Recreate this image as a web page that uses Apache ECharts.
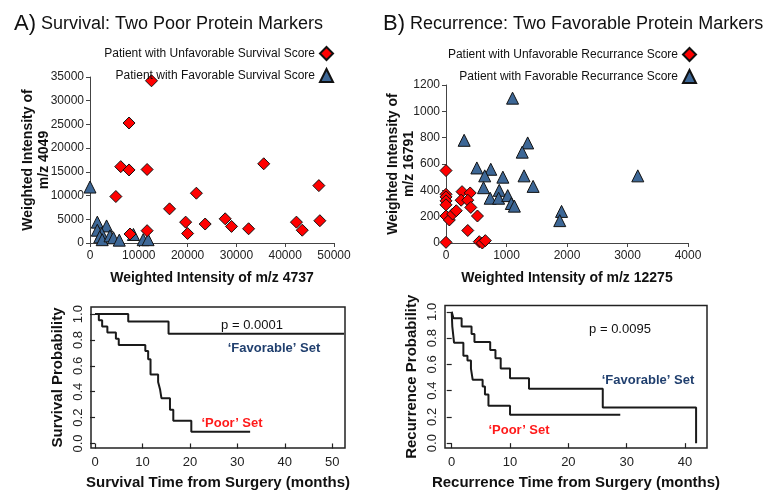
<!DOCTYPE html>
<html><head><meta charset="utf-8">
<script src="https://cdn.jsdelivr.net/npm/echarts@6/dist/echarts.min.js"></script>
<style>html,body{margin:0;padding:0;background:#fff}#c{width:769px;height:491px}</style>
</head><body><div id="c"></div>
<script>
// ---- Panel A scatter (Survival) ----
const aUnfavX = [12600, 8000, 6300, 8000, 11700, 5300, 35600, 21800, 16300, 46900, 19600, 20000, 23600, 27700, 29000, 32500, 42300, 43500, 47100, 8200, 11700];
const aUnfavY = [34200, 25300, 16100, 15400, 15500, 9800, 16700, 10500, 7200, 12100, 4400, 2000, 4000, 5100, 3500, 3000, 4400, 2700, 4700, 1900, 2600];
const aFavX = [0, 1500, 1500, 3400, 2400, 2000, 2500, 4100, 4800, 6000, 8900, 10900, 11900];
const aFavY = [11800, 4400, 2700, 3600, 2000, 1300, 700, 1500, 1100, 600, 1800, 700, 700];
// ---- Panel B scatter (Recurrence) ----
const bUnfavX = [0, 0, 0, 0, 0, 0, 55, 0, 110, 170, 265, 250, 400, 360, 410, 520, 360, 550, 600, 650];
const bUnfavY = [550, 370, 350, 320, 290, 205, 175, 5, 220, 245, 390, 325, 380, 325, 270, 205, 95, 10, 0, 18];
const bFavX = [1100, 300, 1350, 1260, 510, 740, 640, 940, 1290, 3170, 620, 1440, 880, 730, 870, 1020, 1080, 1130, 1910, 1880];
const bFavY = [1100, 780, 760, 690, 570, 560, 510, 500, 510, 510, 420, 430, 400, 340, 340, 360, 300, 280, 240, 170];
// ---- Kaplan-Meier curves ----
const survPoorT = [0, 0.8, 1.5, 2.6, 4.4, 5.0, 10.6, 11.2, 11.7, 13.3, 13.7, 14.0, 15.8, 16.5, 20.3, 32.7];
const survPoorS = [1, 0.952, 0.905, 0.857, 0.81, 0.762, 0.714, 0.652, 0.533, 0.476, 0.42, 0.35, 0.26, 0.176, 0.09, 0.09];
const survFavT = [0, 7.0, 15.5, 52.5];
const survFavS = [1, 0.942, 0.849, 0.849];
const recPoorT = [0, 0.1, 0.4, 2.0, 2.7, 3.3, 3.6, 5.3, 5.7, 6.3, 10.0, 28.9];
const recPoorS = [1, 0.89, 0.765, 0.666, 0.63, 0.568, 0.482, 0.432, 0.37, 0.284, 0.217, 0.217];
const recFavT = [0, 0.3, 1.7, 3.4, 3.9, 6.6, 7.5, 8.4, 10.0, 13.25, 25.9, 41.9];
const recFavS = [1, 0.951, 0.889, 0.832, 0.77, 0.71, 0.647, 0.568, 0.494, 0.415, 0.272, 0];
// ---- tick labels ----
const kmSurvTicks = [0, 10, 20, 30, 40, 50];
const kmRecTicks = [0, 10, 20, 30, 40];
const kmProbTicks = [0, 0.2, 0.4, 0.6, 0.8, 1.0];

const FONT = '"Liberation Sans", Arial, Helvetica, sans-serif';
const zip = (xs, ys) => xs.map((x, i) => [x, ys[i]]);
const RED = '#ff0000', BLUE = '#3d6796', NAVY = '#203f6e', PRED = '#ff1a1a';
const plain = v => String(v);

function scatterX(idx, min, max, interval, name) {
  return {
    gridIndex: idx, type: 'value', min, max, interval,
    axisLine: { show: true, lineStyle: { color: '#444', width: 1 } },
    axisTick: { show: true, length: 4, lineStyle: { color: '#444' } },
    splitLine: { show: false },
    axisLabel: { fontFamily: FONT, fontSize: 12, color: '#222', margin: 7, formatter: plain },
    name, nameLocation: 'middle', nameGap: 28, nameMoveOverlap: false,
    nameTextStyle: { fontFamily: FONT, fontSize: 14, fontWeight: 'bold', color: '#111' }
  };
}
function scatterY(idx, min, max, interval, name, gap) {
  return {
    gridIndex: idx, type: 'value', min, max, interval,
    axisLine: { show: true, lineStyle: { color: '#444', width: 1 } },
    axisTick: { show: true, length: 4, lineStyle: { color: '#444' } },
    splitLine: { show: false },
    axisLabel: { fontFamily: FONT, fontSize: 12, color: '#222', margin: 6, formatter: plain },
    name, nameLocation: 'middle', nameGap: gap, nameRotate: 90, nameMoveOverlap: false,
    nameTextStyle: { fontFamily: FONT, fontSize: 14, fontWeight: 'bold', color: '#111', lineHeight: 16 }
  };
}
function kmX(idx, min, max, ticks, name) {
  return {
    gridIndex: idx, type: 'value', min, max,
    axisLine: { show: false },
    axisTick: { show: true, length: 5, customValues: ticks, lineStyle: { color: '#222', width: 1.2 } },
    splitLine: { show: false },
    axisLabel: { customValues: ticks, fontFamily: FONT, fontSize: 13, color: '#222', margin: 8 },
    name, nameLocation: 'middle', nameGap: 27, nameMoveOverlap: false,
    nameTextStyle: { fontFamily: FONT, fontSize: 15, fontWeight: 'bold', color: '#111' }
  };
}
function kmY(idx, min, max, name) {
  return {
    gridIndex: idx, type: 'value', min, max,
    axisLine: { show: false },
    axisTick: { show: true, length: 5, customValues: kmProbTicks, lineStyle: { color: '#222', width: 1.2 } },
    splitLine: { show: false },
    axisLabel: { customValues: kmProbTicks, rotate: 90, formatter: v => v.toFixed(1), fontFamily: FONT, fontSize: 13, color: '#222', margin: 6 },
    name, nameLocation: 'middle', nameGap: 26, nameRotate: 90, nameMoveOverlap: false,
    nameTextStyle: { fontFamily: FONT, fontSize: 15, fontWeight: 'bold', color: '#111' }
  };
}
function sc(name, xi, data, symbol, color, size) {
  return { name, type: 'scatter', xAxisIndex: xi, yAxisIndex: xi, data, symbol, symbolSize: size,
    itemStyle: { color, borderColor: '#111', borderWidth: 1, opacity: 1 } };
}
function km(xi, data) {
  return { type: 'line', xAxisIndex: xi, yAxisIndex: xi, data, step: 'end', showSymbol: false, symbol: 'none',
    lineStyle: { color: '#1a1a1a', width: 2 }, silent: true };
}
const titleRich = {
  a: { fontFamily: FONT, fontSize: 22, fontWeight: 'normal', color: '#111' },
  b: { fontFamily: FONT, fontSize: 18, fontWeight: 'normal', color: '#111' }
};

const chart = echarts.init(document.getElementById('c'));
chart.setOption({
  animation: false,
  backgroundColor: '#fff',
  title: [
    { text: '{a|A)} {b|Survival: Two Poor Protein Markers}', left: 9, top: 8,
      textStyle: { fontWeight: 'normal', rich: titleRich } },
    { text: '{a|B)} {b|Recurrence: Two Favorable Protein Markers}', left: 378, top: 8,
      textStyle: { fontWeight: 'normal', rich: titleRich } }
  ],
  legend: [
    { data: ['Patient with Unfavorable Survival Score', 'Patient with Favorable Survival Score'],
      orient: 'vertical', right: 430, top: 41, align: 'right', itemWidth: 13, itemHeight: 13, itemGap: 7,
      textStyle: { fontFamily: FONT, fontSize: 12, color: '#111' } },
    { data: ['Patient with Unfavorable Recurrance Score', 'Patient with Favorable Recurrance Score'],
      orient: 'vertical', right: 67, top: 42, align: 'right', itemWidth: 13, itemHeight: 13, itemGap: 7,
      textStyle: { fontFamily: FONT, fontSize: 12, color: '#111' } }
  ],
  grid: [
    { left: 90, top: 77, width: 244, height: 166 },
    { left: 446, top: 85, width: 242, height: 158 },
    { left: 91, top: 307, width: 254, height: 144, show: true, borderColor: '#222', borderWidth: 1.5, backgroundColor: 'transparent' },
    { left: 445, top: 305.5, width: 262, height: 145.5, show: true, borderColor: '#222', borderWidth: 1.5, backgroundColor: 'transparent' }
  ],
  xAxis: [
    scatterX(0, 0, 50000, 10000, 'Weighted Intensity of m/z 4737'),
    scatterX(1, 0, 4000, 1000, 'Weighted Intensity of m/z 12275'),
    kmX(2, -0.85, 52.7, kmSurvTicks, 'Survival Time from Surgery (months)'),
    kmX(3, -1.15, 43.77, kmRecTicks, 'Recurrence Time from Surgery (months)')
  ],
  yAxis: [
    scatterY(0, 0, 35000, 5000, 'Weighted Intensity of\nm/z 4049', 38),
    scatterY(1, 0, 1200, 200, 'Weighted Intensity of\nm/z 16791', 29),
    kmY(2, -0.035, 1.055, 'Survival Probability'),
    kmY(3, -0.037, 1.0485, 'Recurrence Probability')
  ],
  series: [
    sc('Patient with Favorable Survival Score', 0, zip(aFavX, aFavY), 'triangle', BLUE, 12),
    sc('Patient with Unfavorable Survival Score', 0, zip(aUnfavX, aUnfavY), 'diamond', RED, 12),
    sc('Patient with Favorable Recurrance Score', 1, zip(bFavX, bFavY), 'triangle', BLUE, 12),
    sc('Patient with Unfavorable Recurrance Score', 1, zip(bUnfavX, bUnfavY), 'diamond', RED, 12),
    km(2, zip(survPoorT, survPoorS)),
    km(2, zip(survFavT, survFavS)),
    km(3, zip(recPoorT, recPoorS)),
    km(3, zip(recFavT, recFavS))
  ],
  graphic: [
    { type: 'text', x: 252, y: 325, style: { text: 'p = 0.0001', font: '13px ' + FONT, fill: '#111', align: 'center', verticalAlign: 'middle' } },
    { type: 'text', x: 274, y: 348, style: { text: '\u2018Favorable\u2019 Set', font: 'bold 13px ' + FONT, fill: NAVY, align: 'center', verticalAlign: 'middle' } },
    { type: 'text', x: 232, y: 423, style: { text: '\u2018Poor\u2019 Set', font: 'bold 13px ' + FONT, fill: PRED, align: 'center', verticalAlign: 'middle' } },
    { type: 'text', x: 620, y: 329, style: { text: 'p = 0.0095', font: '13px ' + FONT, fill: '#111', align: 'center', verticalAlign: 'middle' } },
    { type: 'text', x: 648, y: 380, style: { text: '\u2018Favorable\u2019 Set', font: 'bold 13px ' + FONT, fill: NAVY, align: 'center', verticalAlign: 'middle' } },
    { type: 'text', x: 519, y: 430, style: { text: '\u2018Poor\u2019 Set', font: 'bold 13px ' + FONT, fill: PRED, align: 'center', verticalAlign: 'middle' } }
  ]
});
</script>
</body></html>
